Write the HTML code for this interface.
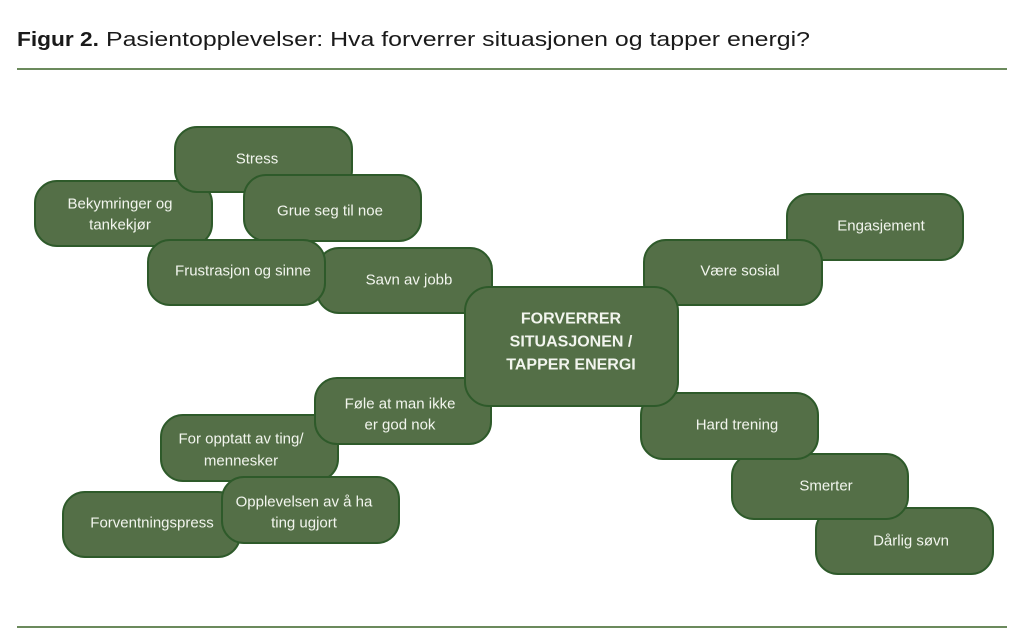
<!DOCTYPE html>
<html>
<head>
<meta charset="utf-8">
<style>
  html, body { margin: 0; padding: 0; background: #ffffff; }
  body { width: 1024px; height: 642px; overflow: hidden; }
  svg { display: block; }
  .b { fill: #546f47; stroke: #2e5a2a; stroke-width: 2; }
  .t { font-family: "Liberation Sans", "DejaVu Sans", sans-serif; font-size: 15px; fill: #f2f5ee; text-anchor: middle; dominant-baseline: central; }
  .c { font-family: "Liberation Sans", "DejaVu Sans", sans-serif; font-size: 16px; font-weight: bold; fill: #f2f5ee; text-anchor: middle; dominant-baseline: central; }
</style>
</head>
<body>
<svg width="1024" height="642" viewBox="0 0 1024 642" xmlns="http://www.w3.org/2000/svg">
  <!-- Title -->
  <text x="17" y="46" font-family="Liberation Sans, sans-serif" font-size="20" font-weight="bold" fill="#1a1a1a" textLength="82" lengthAdjust="spacingAndGlyphs">Figur 2.</text>
  <text x="106" y="46" font-family="Liberation Sans, sans-serif" font-size="20" fill="#1a1a1a" textLength="704" lengthAdjust="spacingAndGlyphs">Pasientopplevelser: Hva forverrer situasjonen og tapper energi?</text>
  <rect x="17" y="68" width="990" height="2" fill="#6b8a5c"/>
  <rect x="17" y="626" width="990" height="2" fill="#6b8a5c"/>

  <!-- Right side lower -->
  <rect class="b" x="816" y="508" width="177" height="66" rx="22"/>
  <text class="t" x="911" y="541">Dårlig søvn</text>
  <rect class="b" x="732" y="454" width="176" height="65" rx="22"/>
  <text class="t" x="826" y="486">Smerter</text>
  <rect class="b" x="641" y="393" width="177" height="66" rx="22"/>
  <text class="t" x="737" y="425">Hard trening</text>

  <!-- Right side upper -->
  <rect class="b" x="787" y="194" width="176" height="66" rx="22"/>
  <text class="t" x="881" y="226">Engasjement</text>
  <rect class="b" x="644" y="240" width="178" height="65" rx="22"/>
  <text class="t" x="740" y="271">Være sosial</text>

  <!-- Left upper cluster -->
  <rect class="b" x="317" y="248" width="175" height="65" rx="22"/>
  <text class="t" x="409" y="280">Savn av jobb</text>
  <rect class="b" x="35" y="181" width="177" height="65" rx="22"/>
  <text class="t" x="120" y="204">Bekymringer og</text>
  <text class="t" x="120" y="225">tankekjør</text>
  <rect class="b" x="175" y="127" width="177" height="65" rx="22"/>
  <text class="t" x="257" y="159">Stress</text>
  <rect class="b" x="244" y="175" width="177" height="66" rx="22"/>
  <text class="t" x="330" y="211">Grue seg til noe</text>
  <rect class="b" x="148" y="240" width="177" height="65" rx="22"/>
  <text class="t" x="243" y="271">Frustrasjon og sinne</text>

  <!-- Left lower cluster -->
  <rect class="b" x="63" y="492" width="177" height="65" rx="22"/>
  <text class="t" x="152" y="523">Forventningspress</text>
  <rect class="b" x="161" y="415" width="177" height="66" rx="22"/>
  <text class="t" x="241" y="439">For opptatt av ting/</text>
  <text class="t" x="241" y="461">mennesker</text>
  <rect class="b" x="222" y="477" width="177" height="66" rx="22"/>
  <text class="t" x="304" y="502">Opplevelsen av å ha</text>
  <text class="t" x="304" y="523">ting ugjort</text>
  <rect class="b" x="315" y="378" width="176" height="66" rx="22"/>
  <text class="t" x="400" y="404">Føle at man ikke</text>
  <text class="t" x="400" y="425">er god nok</text>

  <!-- Center -->
  <rect class="b" x="465" y="287" width="213" height="119" rx="24"/>
  <text class="c" x="571" y="319">FORVERRER</text>
  <text class="c" x="571" y="342">SITUASJONEN /</text>
  <text class="c" x="571" y="365">TAPPER ENERGI</text>
</svg>
</body>
</html>
